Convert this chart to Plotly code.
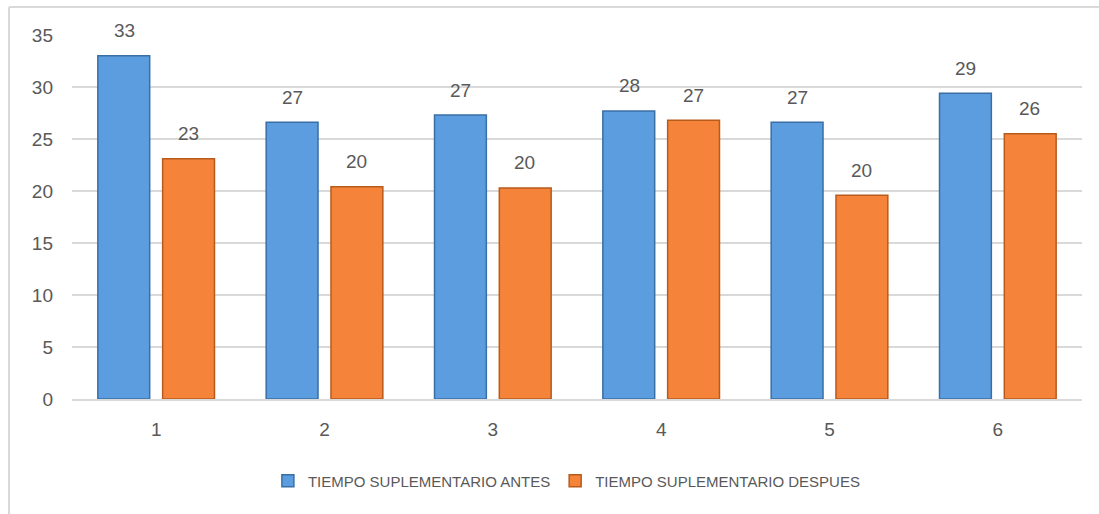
import plotly.graph_objects as go

categories = ["1", "2", "3", "4", "5", "6"]
antes = [33.0, 26.6, 27.3, 27.7, 26.6, 29.4]
despues = [23.1, 20.4, 20.3, 26.8, 19.6, 25.5]
series_names = ["TIEMPO SUPLEMENTARIO ANTES", "TIEMPO SUPLEMENTARIO DESPUES"]
y_ticks = [0, 5, 10, 15, 20, 25, 30, 35]

blue = "#5B9DDE"
blue_line = "#3A6FA6"
orange = "#F5843A"
orange_line = "#B85A1C"
text_col = "#595959"
font_main = "Liberation Sans, Arial, sans-serif"

fig = go.Figure()
fig.add_trace(go.Bar(x=categories, y=antes, name=series_names[0],
                     marker=dict(color=blue, line=dict(color=blue_line, width=1.5))))
fig.add_trace(go.Bar(x=categories, y=despues, name=series_names[1],
                     marker=dict(color=orange, line=dict(color=orange_line, width=1.5))))

annotations = []
for vals, shift in ((antes, -32), (despues, 32)):
    for i, v in enumerate(vals):
        annotations.append(dict(x=i, y=v, text=f"{v:.0f}", showarrow=False,
                                xshift=shift, yshift=25, yanchor="middle",
                                font=dict(size=19, color=text_col, family=font_main)))

W, H = 1099, 514
L, R, T, B = 72, 17, 35, 115
pw, ph = W - L - R, H - T - B

def px(x):
    return (x - L) / pw

def py(y):
    return (H - B - y) / ph

shapes = [
    dict(type="line", xref="paper", yref="paper", x0=px(9), x1=px(9), y0=py(7), y1=py(514),
         line=dict(color="#D9D9D9", width=2)),
    dict(type="line", xref="paper", yref="paper", x0=px(9), x1=px(1099), y0=py(7), y1=py(7),
         line=dict(color="#D9D9D9", width=2)),
]

fig.update_layout(
    width=W, height=H,
    margin=dict(l=L, r=R, t=T, b=B),
    paper_bgcolor="white", plot_bgcolor="white",
    barmode="group", bargap=0.23, bargroupgap=0.2,
    annotations=annotations, shapes=shapes,
    xaxis=dict(type="category", range=[-0.5, 5.5], showgrid=False, showline=True,
               linecolor="#D9D9D9", linewidth=2, ticks="", ticklabelstandoff=12,
               tickfont=dict(size=19, color=text_col, family=font_main)),
    yaxis=dict(range=[0, 35], tickvals=y_ticks, showgrid=True, gridcolor="#D9D9D9", gridwidth=2,
               zeroline=False, showline=False, ticks="", ticklabelstandoff=18,
               tickfont=dict(size=19, color=text_col, family=font_main)),
    legend=dict(orientation="h", x=0.49, xanchor="center", y=py(481), yanchor="middle",
                font=dict(size=15, color=text_col, family=font_main),
                itemwidth=30, traceorder="normal"),
    showlegend=True,
)

fig.write_html("out.html")
